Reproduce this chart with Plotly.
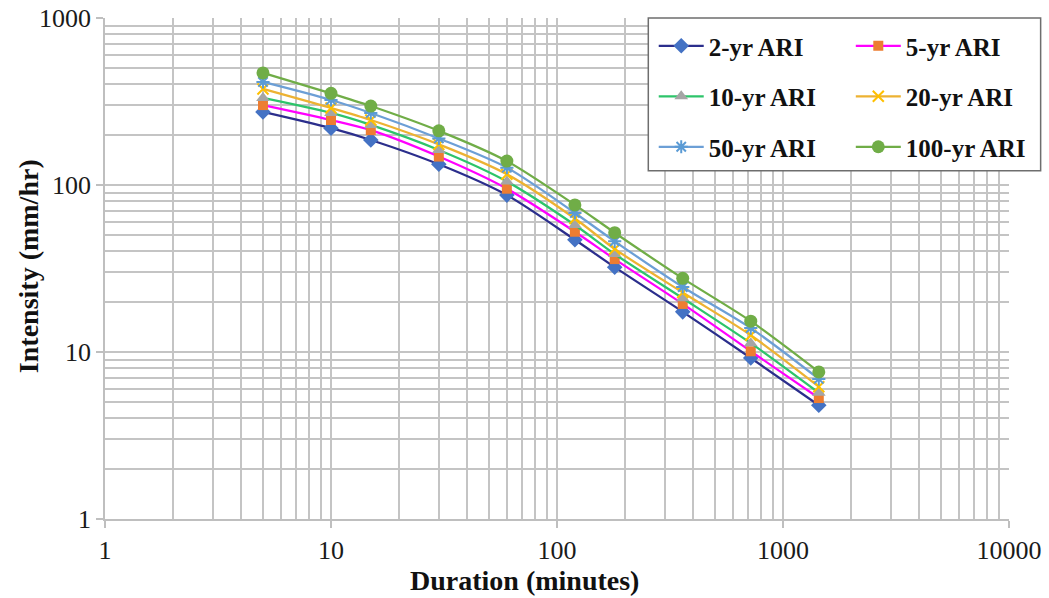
import plotly.graph_objects as go

# Rainfall intensity-duration-frequency curves
durations = [5, 10, 15, 30, 60, 120, 180, 360, 720, 1440]  # minutes

ari_2 = [274, 219, 186, 133, 87, 47, 32.2, 17.4, 9.2, 4.8]
ari_5 = [301, 245, 213, 148, 95, 52.5, 36, 19.4, 10.1, 5.3]
ari_10 = [332, 270, 229, 162, 105, 57.6, 38.6, 21, 11.3, 5.7]
ari_20 = [376, 289, 245, 175, 116, 63, 41.4, 22.7, 12.6, 6.2]
ari_50 = [414, 323, 270, 190, 127, 68, 46, 24.5, 13.9, 6.9]
ari_100 = [469, 354, 297, 211, 139, 76, 51.8, 27.6, 15.3, 7.6]

series_names = ["2-yr ARI", "5-yr ARI", "10-yr ARI", "20-yr ARI", "50-yr ARI", "100-yr ARI"]
series_values = [ari_2, ari_5, ari_10, ari_20, ari_50, ari_100]

x_ticks = [1, 10, 100, 1000, 10000]
y_ticks = [1, 10, 100, 1000]

FONT = "Liberation Serif"

# line colour, marker colour, marker symbol, marker size, legend column
styles = [
    ("#2B2E8C", "#4472C4", "diamond", 12, "legend"),
    ("#FF00FF", "#ED7D31", "square", 10, "legend2"),
    ("#2DC46A", "#A5A5A5", "triangle-up", 12, "legend"),
    ("#EDB232", "#FFC000", "x-thin-open", 11, "legend2"),
    ("#6C9FD6", "#5B9BD5", "asterisk-open", 11, "legend"),
    ("#70AD47", "#70AD47", "circle", 13, "legend2"),
]

fig = go.Figure()
for name, vals, (lc, mc, sym, ms, leg) in zip(series_names, series_values, styles):
    fig.add_trace(go.Scatter(
        x=durations, y=vals, name=name, mode="lines+markers",
        line=dict(color=lc, width=2.25, shape="spline", smoothing=0.8),
        marker=dict(color=mc, symbol=sym, size=ms, line=dict(color=mc, width=2 if "open" in sym else 0)),
        legend=leg, legendgroup=name,
    ))

minor_x = [m * 10 ** e for e in range(0, 4) for m in range(2, 10)]
minor_y = [m * 10 ** e for e in range(0, 3) for m in range(2, 10)]

grid_col = "#c4c4c4"
axis_common = dict(
    type="log", showgrid=True, gridcolor=grid_col, gridwidth=1.5,
    showline=True, linecolor="#bfbfbf", linewidth=1.5,
    ticks="outside", ticklen=7, tickcolor="#bfbfbf", tickwidth=1.5,
    tickfont=dict(family=FONT, size=26, color="#1a1a1a"),
    zeroline=False, automargin=False,
)

fig.update_xaxes(
    **axis_common, range=[0, 4], tickvals=x_ticks, ticktext=[str(v) for v in x_ticks],
    minor=dict(tickvals=minor_x, showgrid=True, gridcolor=grid_col, gridwidth=1.5, ticks=""),
)
fig.update_yaxes(
    **axis_common, range=[0, 3], tickvals=y_ticks, ticktext=[str(v) for v in y_ticks],
    minor=dict(tickvals=minor_y, showgrid=True, gridcolor=grid_col, gridwidth=1.5, ticks=""),
)

legend_common = dict(
    bgcolor="rgba(0,0,0,0)", borderwidth=0,
    font=dict(family=FONT, size=25, color="#111", weight="bold"),
    traceorder="grouped", tracegroupgap=15, itemwidth=45,
    xanchor="left", yanchor="top", yref="paper", xref="paper",
)

title_font = dict(family=FONT, size=28, color="#111", weight="bold")

fig.update_layout(
    width=1049, height=598,
    margin=dict(l=105, r=40, t=18, b=79),
    paper_bgcolor="white", plot_bgcolor="white",
    showlegend=True,
    legend=dict(**legend_common, x=0.607, y=0.99),
    legend2=dict(**legend_common, x=0.825, y=0.99),
    shapes=[dict(
        type="rect", xref="paper", yref="paper",
        x0=0.601, x1=1.035, y0=0.695, y1=1.0,
        fillcolor="white", line=dict(color="#6e6e6e", width=1.5), layer="above",
    )],
    annotations=[
        dict(text="Duration (minutes)", xref="paper", yref="paper",
             x=(524 - 105) / 904, y=-0.122, xanchor="center", yanchor="middle",
             showarrow=False, font=title_font),
        dict(text="Intensity (mm/hr)", xref="paper", yref="paper",
             x=-0.085, y=(519 - 266) / 501, xanchor="center", yanchor="middle",
             textangle=-90, showarrow=False, font=title_font),
    ],
)

fig.write_html("out.html")
